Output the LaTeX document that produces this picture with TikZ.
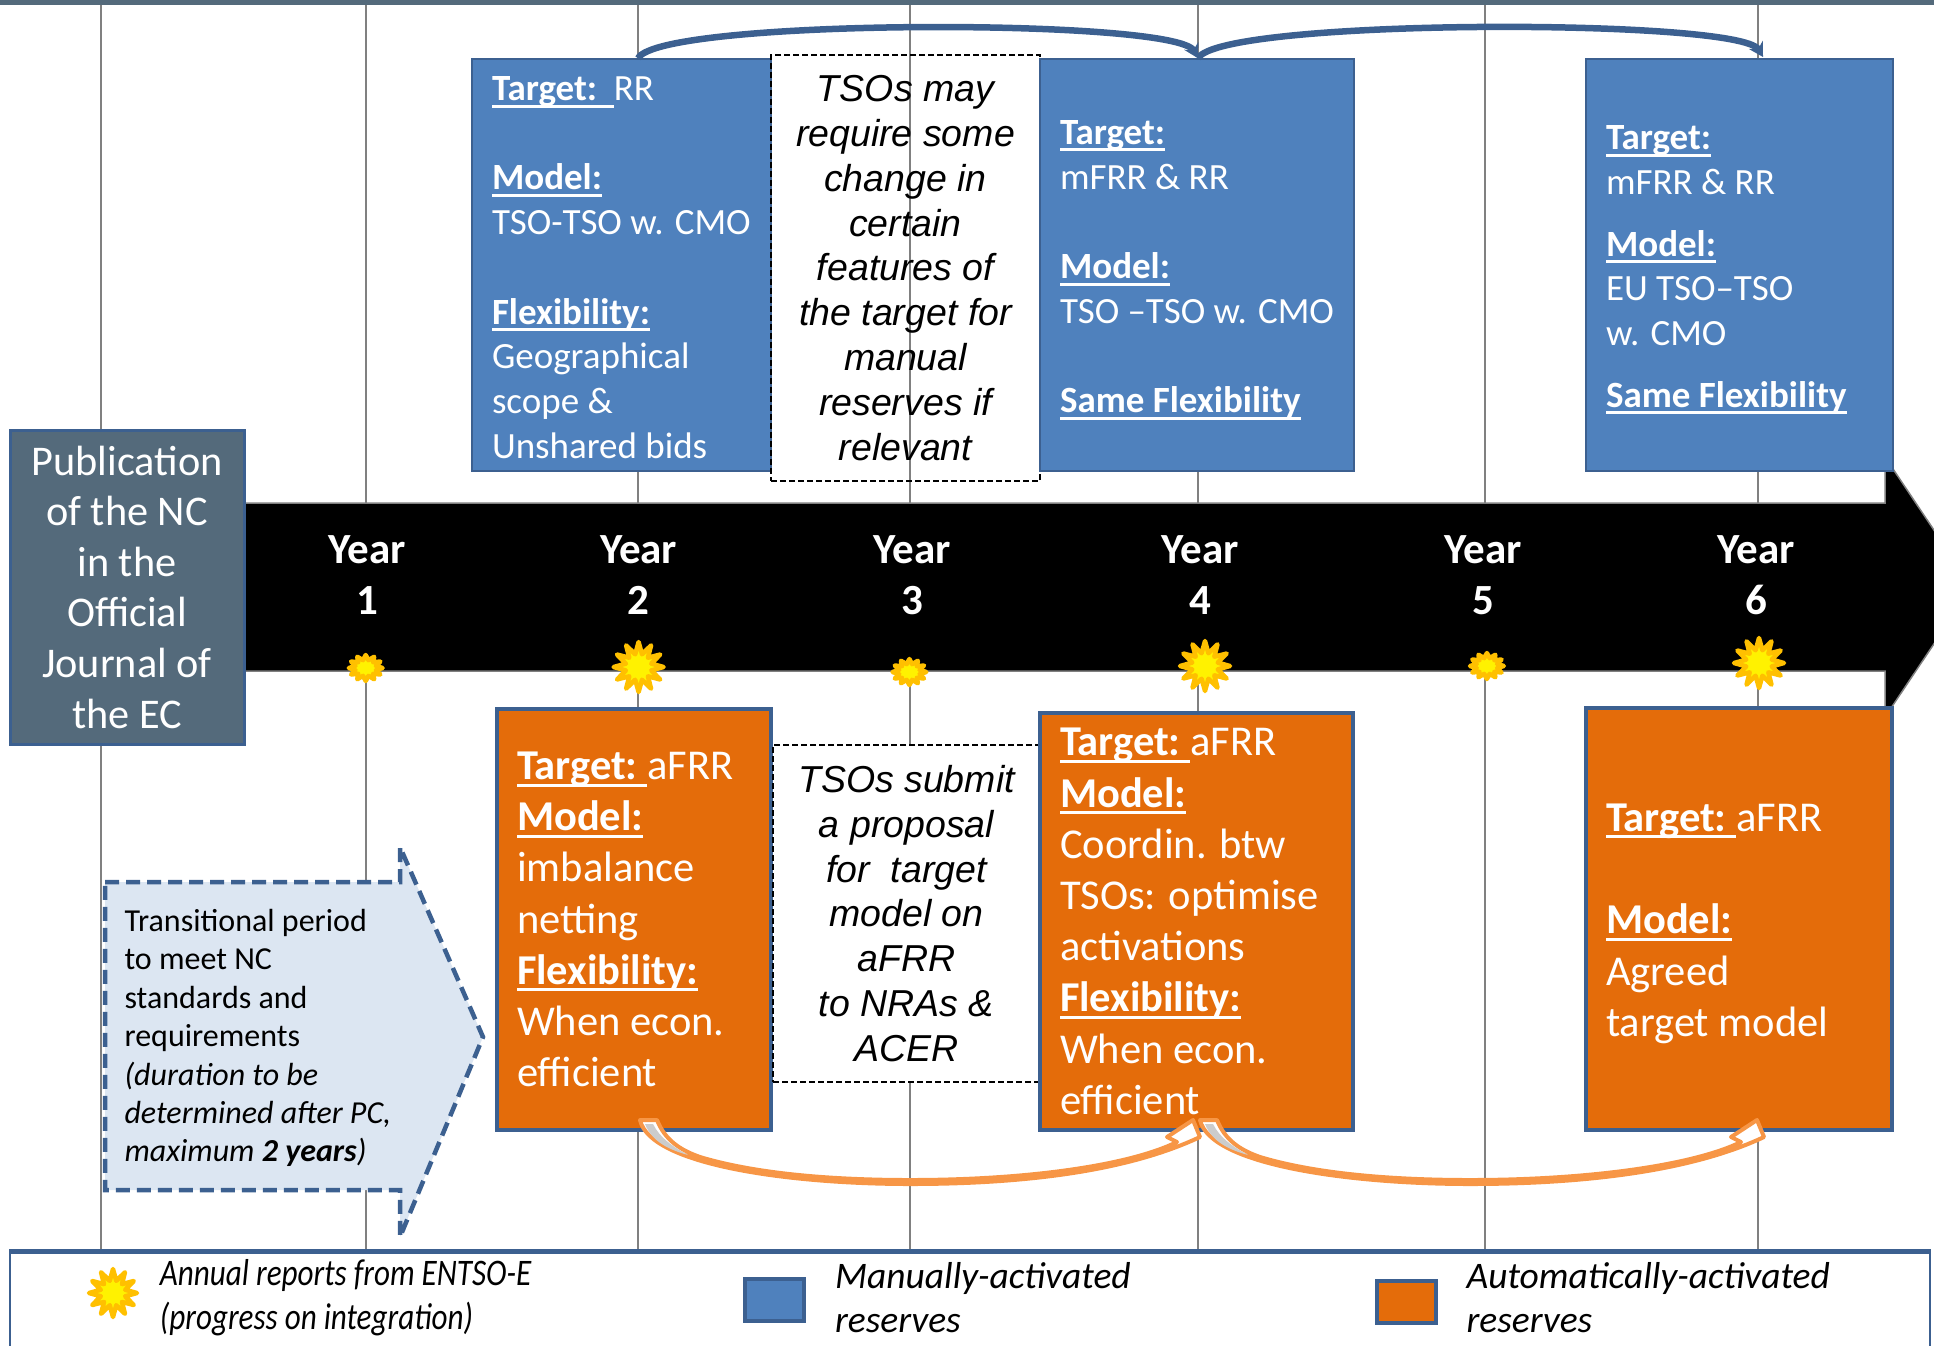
\documentclass[tikz,border=0pt]{standalone}
\usepackage{fontspec}
\setmainfont{Carlito}
\newfontfamily\arialfont{Liberation Sans}
\usetikzlibrary{arrows.meta}
\usetikzlibrary{shapes.geometric}
\definecolor{slatefill}{HTML}{546A7B}
\definecolor{borderblue}{HTML}{3C6090}
\definecolor{manualblue}{HTML}{4F81BD}
\definecolor{autoorange}{HTML}{E46C0A}
\definecolor{arcorange}{HTML}{F79646}
\definecolor{transfill}{HTML}{DCE6F2}
\definecolor{sunorange}{HTML}{FFC000}
\newcommand{\head}[1]{\leavevmode\setbox0=\hbox{\textbf{#1}}\rlap{\vrule width \wd0 height -4pt depth 7pt}\box0}
\tikzset{blue_box/.style={draw=borderblue, line width=1.5pt, fill=manualblue, text=white, minimum height=412pt, inner xsep=20pt, align=flush left, font=\fontsize{37}{44.7}\selectfont},
	orange_box/.style={draw=borderblue, line width=4.5pt, fill=autoorange, text=white, inner xsep=20pt, align=flush left, font=\fontsize{42.5}{51.2}\selectfont},
	note_box/.style={draw=black, dash pattern=on 6pt off 3pt, line width=1.5pt, align=center, font=\arialfont\itshape\fontsize{37.5}{44.8}\selectfont}
}
\tikzstyle{big_sun} = [star, star points=12, star point ratio=1.9, draw=sunorange, line width=4.5pt, line join=round, fill=yellow, minimum size=50pt, inner sep=0pt]
\tikzstyle{small_sun} = [star, star points=12, star point ratio=1.6, draw=sunorange, line width=4.5pt, line join=round, fill=yellow, minimum size=26pt, inner sep=0pt, xscale=1.3, transform shape]
\tikzstyle{year_label} = [text=white, align=center, font=\bfseries\fontsize{43}{51}\selectfont]
\tikzstyle{grid_line} = [draw=gray, line width=2pt]
\tikzstyle{key_label} = [align=left, font=\itshape\fontsize{37.5}{44}\selectfont]
\tikzstyle{key_box} = [draw=borderblue, line width=4pt, minimum width=59pt, minimum height=42pt]
\tikzstyle{top_arc} = [draw=borderblue, line width=6.5pt, -{Stealth[length=14pt,width=16pt]}]
\tikzstyle{bottom_arc} = [draw=arcorange, line width=4pt, fill=white, line join=round]
\begin{document}
\begin{tikzpicture}[x=1pt, y=-1pt, node distance=0pt]
	\path[use as bounding box, clip] (0,0) rectangle (1934,1345);
	% grid lines
	\foreach \name/\x in {v0/101, v1/366, v2/638, v3/910, v4/1198, v5/1485, v6/1758} {
		\coordinate (\name) at (\x,5);
		\coordinate (\name b) at (\x,1252);
		\draw[grid_line] (\name) -- (\name b);
	}
	\fill[slatefill] (0,0) rectangle (1934,5);

	% time line
	\draw[gray, line width=1.5pt, fill=black] (244,503) -- (1885,503) -- (1885,457) -- (1972,587) -- (1885,717) -- (1885,671) -- (244,671) -- cycle;

	% top row
	\node[draw=borderblue, line width=3pt, fill=slatefill, text=white, minimum width=234pt, minimum height=314pt, align=center, font=\fontsize{42.3}{50.6}\selectfont] (pub) at (127,587) {Publication\\of the NC\\in the\\Official\\Journal of\\the EC};
	\node[blue_box, text width=259pt, right of=pub, xshift=494.5pt, yshift=322pt] (blue1) {\rule{0pt}{29pt}\head{Target:~~}RR\\~\\\head{Model:}\\TSO-TSO w. CMO\\~\\\head{Flexibility:}\\Geographical\\scope \&\\Unshared bids};
	\node[note_box, minimum width=269pt, minimum height=426pt, right of=blue1, xshift=284pt, yshift=-3pt] (note1) {TSOs may\\require some\\change in\\certain\\features of\\the target for\\manual\\reserves if\\relevant};
	\node[blue_box, text width=274pt, right of=note1, xshift=291.5pt, yshift=3pt] (blue2) {\rule{0pt}{34pt}\head{Target:}\\mFRR \& RR\\~\\\head{Model:}\\TSO --TSO w. CMO\\~\\\head{Same Flexibility}};
	\node[blue_box, text width=267pt, right of=blue2, xshift=542.5pt] (blue3) {\rule{0pt}{34pt}\head{Target:}\\mFRR \& RR\\[17pt]\head{Model:}\\EU TSO--TSO\\w. CMO\\[17pt]\head{Same Flexibility}};

	% bottom row
	\node[orange_box, text width=234pt, minimum height=421pt, below of=blue1, xshift=12.5pt, yshift=-654.5pt] (orange1) {\head{Target:~}aFRR\\\head{Model:}\\imbalance\\netting\\\head{Flexibility:}\\When econ.\\efficient};
	\node[note_box, fill=white, minimum width=267pt, minimum height=337pt, below of=note1, xshift=1pt, yshift=-645.5pt] (note2) {TSOs submit\\a proposal\\for~~target\\model on\\aFRR\\to NRAs \&\\ACER};
	\node[orange_box, text width=273pt, minimum height=417pt, below of=blue2, xshift=-0.5pt, yshift=-656.5pt] (orange2) {\head{Target:~}aFRR\\\head{Model:}\\Coordin. btw\\TSOs: optimise\\activations\\\head{Flexibility:}\\When econ.\\efficient};
	\node[orange_box, text width=266pt, minimum height=422pt, below of=blue3, xshift=-0.5pt, yshift=-654pt] (orange3) {\rule{0pt}{37pt}\head{Target:~}aFRR\\~\\\head{Model:}\\Agreed\\target model};

	% year labels and reports
	\node[year_label, right of=pub, xshift=240pt, yshift=12pt] (year1) {Year\\1};
	\node[year_label, right of=year1, xshift=271.6pt] (year2) {Year\\2};
	\node[year_label, right of=year2, xshift=273.4pt] (year3) {Year\\3};
	\node[year_label, right of=year3, xshift=288pt] (year4) {Year\\4};
	\node[year_label, right of=year4, xshift=283pt] (year5) {Year\\5};
	\node[year_label, right of=year5, xshift=273pt] (year6) {Year\\6};
	\node[small_sun, below of=year1, xshift=-1pt, yshift=-93pt] (sun1) {};
	\node[big_sun, below of=year2, yshift=-92pt] (sun2) {};
	\node[small_sun, below of=year3, xshift=-2pt, yshift=-97pt] (sun3) {};
	\node[big_sun, below of=year4, xshift=5pt, yshift=-91pt] (sun4) {};
	\node[small_sun, below of=year5, xshift=3pt, yshift=-91pt] (sun5) {};
	\node[big_sun, below of=year6, xshift=3pt, yshift=-88pt] (sun6) {};

	% transitional arrow
	\draw[draw=borderblue, dashed, dash pattern=on 14pt off 7pt, line width=4.5pt, fill=transfill] (105,882) -- (400,882) -- (400,847) -- (483,1037) -- (400,1237) -- (400,1190) -- (105,1190) -- cycle;
	\node[anchor=west, align=left, font=\fontsize{32}{38.4}\selectfont] (trans) at (121,1038) {Transitional period\\to meet NC\\standards and\\requirements\\\textit{(duration to be}\\\textit{determined after PC,}\\\textit{maximum \textbf{2 years})}};

	% draw arcs
	\coordinate (t2) at (v2 |- blue1.north);
	\coordinate (t4) at (v4 |- blue2.north);
	\coordinate (t6) at (1763,57);
	\draw[top_arc] (t2) .. controls (660,18) and (1176,18) .. (t4);
	\draw[top_arc] (t4) .. controls (1220,18) and (1740,18) .. (t6);

	\coordinate (a2) at (640,1120);
	\coordinate (a4in) at (1193,1120);
	\coordinate (a4) at (1200,1120);
	\coordinate (a6) at (1757,1120);
	\draw[bottom_arc] (a2) .. controls (650,1165) and (790,1184) .. (910,1184) .. controls (1030,1184) and (1130,1170) .. (1200,1137) -- (a4in) -- (1167,1137) -- (1177,1142) .. controls (1130,1165) and (1030,1180) .. (910,1180) .. controls (840,1180) and (760,1175) .. (700,1157) .. controls (680,1150) and (665,1140) .. (657,1120) -- cycle;
	\fill[gray!40] (645,1124) .. controls (652,1142) and (670,1150) .. (688,1155) .. controls (672,1146) and (660,1138) .. (653,1124) -- cycle;
	\draw[bottom_arc] (a4) .. controls (1210,1165) and (1350,1184) .. (1470,1184) .. controls (1590,1184) and (1694,1170) .. (1764,1137) -- (a6) -- (1731,1137) -- (1741,1142) .. controls (1694,1165) and (1590,1180) .. (1470,1180) .. controls (1400,1180) and (1320,1175) .. (1260,1157) .. controls (1240,1150) and (1225,1140) .. (1217,1120) -- cycle;
	\fill[gray!40] (1205,1124) .. controls (1212,1142) and (1230,1150) .. (1248,1155) .. controls (1232,1146) and (1220,1138) .. (1213,1124) -- cycle;

	% legend
	\node[draw=borderblue, line width=1.5pt, fill=white, minimum width=1920pt, minimum height=110pt] (legend) at (970,1307) {};
	\draw[borderblue, line width=5pt] (legend.north west) -- (legend.north east);
	\node[big_sun, minimum size=48pt] (sunkey) at (113,1293) {};
	\node[key_label, right of=sunkey, anchor=west, xshift=44pt, yshift=-5pt, xscale=0.83, transform shape] (keysun) {Annual reports from ENTSO-E\\(progress on integration)};
	\node[key_box, fill=manualblue] (keyblue) at (774.5,1300) {};
	\node[key_label, right of=keyblue, anchor=west, xshift=57pt, yshift=2.5pt] (keymanual) {Manually-activated\\reserves};
	\node[key_box, fill=autoorange] (keyorange) at (1406.5,1301.5) {};
	\node[key_label, right of=keyorange, anchor=west, xshift=56.5pt, yshift=4pt] (keyauto) {Automatically-activated\\reserves};
\end{tikzpicture}
\end{document}
